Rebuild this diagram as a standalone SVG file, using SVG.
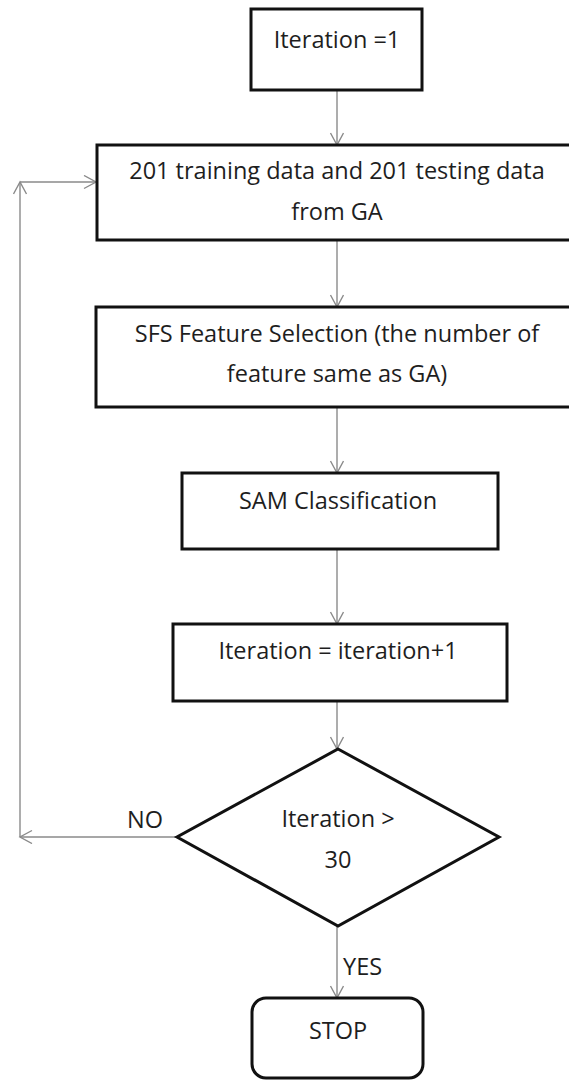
<svg xmlns="http://www.w3.org/2000/svg" width="569" height="1081" viewBox="0 0 569 1081">
  <style>
    .box { fill: #ffffff; stroke: #111111; stroke-width: 3; }
    .lbl { font-family: "Open Sans", "Liberation Sans", sans-serif; font-size: 23.5px; fill: #1e1e1e; text-anchor: middle; }
    .tag { font-family: "Open Sans", "Liberation Sans", sans-serif; font-size: 23.5px; fill: #1e1e1e; }
    .wire { fill: none; stroke: #8a8a8a; stroke-width: 1.4; marker-end: url(#head); }
  </style>
  <defs>
    <marker id="head" markerUnits="userSpaceOnUse" markerWidth="16" markerHeight="16" refX="13" refY="7" orient="auto">
      <path d="M1,0.5 L13,7 L1,13.5" fill="none" stroke="#8a8a8a" stroke-width="1.4"/>
    </marker>
  </defs>
  <rect width="569" height="1081" fill="#ffffff"/>

  <g id="connectors">
    <line class="wire" x1="337" y1="90" x2="337" y2="145"/>
    <line class="wire" x1="337" y1="240" x2="337" y2="307"/>
    <line class="wire" x1="337" y1="407" x2="337" y2="473"/>
    <line class="wire" x1="337" y1="549" x2="337" y2="624"/>
    <line class="wire" x1="337" y1="701" x2="337" y2="749"/>
    <line class="wire" x1="337" y1="926" x2="337" y2="998"/>
    <line class="wire" x1="177" y1="837" x2="20" y2="837"/>
    <line class="wire" x1="20" y1="837" x2="20" y2="182"/>
    <line class="wire" x1="20" y1="182" x2="96" y2="182"/>
    <text class="tag" x="127" y="828">NO</text>
    <text class="tag" x="343" y="975">YES</text>
  </g>

  <g id="start">
    <rect class="box" x="251" y="9" width="171" height="81"/>
    <text class="lbl" x="337" y="48">Iteration =1</text>
  </g>

  <g id="data">
    <rect class="box" x="97" y="145" width="490" height="95"/>
    <text class="lbl" x="337" y="179">201 training data and 201 testing data</text>
    <text class="lbl" x="337" y="220">from GA</text>
  </g>

  <g id="sfs">
    <rect class="box" x="96" y="307" width="490" height="100"/>
    <text class="lbl" x="337" y="342">SFS Feature Selection (the number of</text>
    <text class="lbl" x="337" y="382">feature same as GA)</text>
  </g>

  <g id="sam">
    <rect class="box" x="182" y="473" width="316" height="76"/>
    <text class="lbl" x="338" y="509">SAM Classification</text>
  </g>

  <g id="increment">
    <rect class="box" x="173" y="624" width="334" height="77"/>
    <text class="lbl" x="338" y="659">Iteration = iteration+1</text>
  </g>

  <g id="decision">
    <polygon class="box" points="338,749 499,837 338,926 177,837"/>
    <text class="lbl" x="338" y="827">Iteration &gt;</text>
    <text class="lbl" x="338" y="868">30</text>
  </g>

  <g id="stop">
    <rect class="box" x="252" y="998" width="171" height="80" rx="14" ry="14"/>
    <text class="lbl" x="338" y="1039">STOP</text>
  </g>
</svg>
